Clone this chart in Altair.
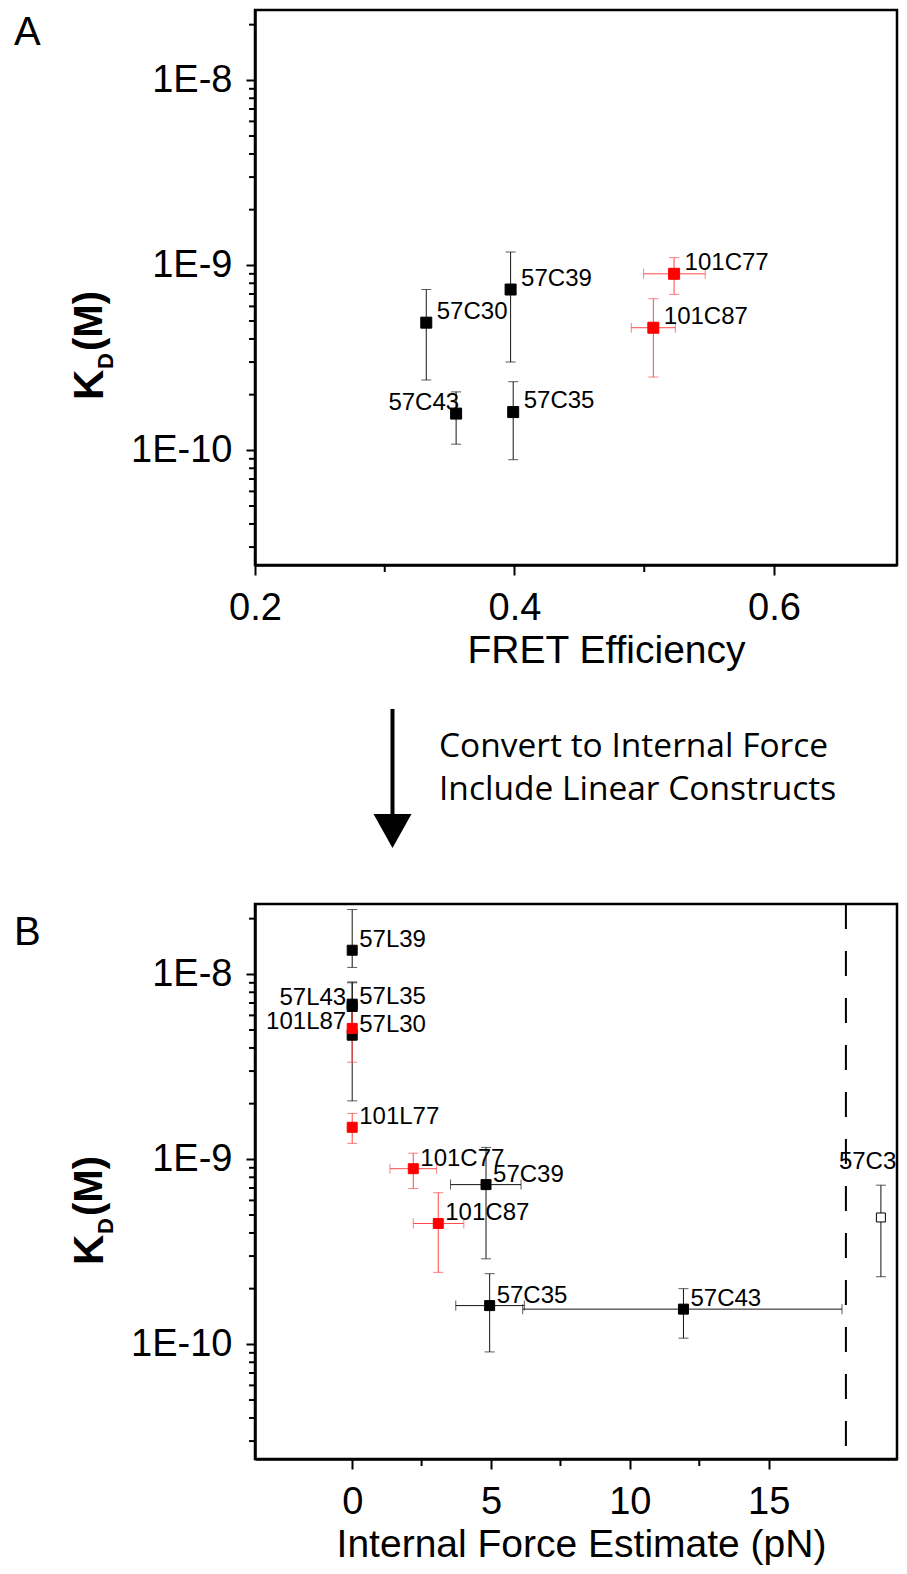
import json
import altair as alt
import pandas as pd

FONT = "Liberation Sans"

# ---------------- Panel A : KD vs FRET efficiency ----------------
a_names = ["57C30", "57C39", "57C43", "57C35", "101C77", "101C87"]
a_group = ["black", "black", "black", "black", "red", "red"]
a_fret = [0.332, 0.397, 0.355, 0.399, 0.523, 0.507]
a_fret_lo = [None, None, None, None, 0.4995, 0.490]
a_fret_hi = [None, None, None, None, 0.547, 0.524]
a_kd = [4.9e-10, 7.4e-10, 1.58e-10, 1.61e-10, 9.0e-10, 4.6e-10]
a_kd_lo = [2.4e-10, 3.0e-10, 1.08e-10, 8.9e-11, 6.97e-10, 2.49e-10]
a_kd_hi = [7.4e-10, 1.18e-9, 2.07e-10, 2.35e-10, 1.1e-9, 6.6e-10]
a_right_labels = ["57C43"]
a_x_domain = [0.2, 0.6948]
a_x_major = [0.2, 0.4, 0.6]
a_x_minor = [0.3, 0.5]

# ---------------- Panel B : KD vs internal force ----------------
b_names = ["57L39", "57L35", "57L43", "57L30", "57C39", "57C35", "57C43", "57C30",
           "101L87", "101L77", "101C77", "101C87"]
b_group = ["black", "black", "black", "black", "black", "black", "black", "open",
           "red", "red", "red", "red"]
b_force = [0, 0, 0, 0, 4.82, 4.95, 11.93, 19.04, 0, 0, 2.2, 3.1]
b_force_lo = [None, None, None, None, 3.54, 3.73, 6.14, None, None, None, 1.36, 2.2]
b_force_hi = [None, None, None, None, 6.08, 6.2, 17.64, None, None, None, 3.04, 4.02]
b_kd = [1.35e-8, 6.7e-9, 6.9e-9, 4.7e-9, 7.3e-10, 1.62e-10, 1.55e-10, 4.85e-10,
        5.1e-9, 1.49e-9, 8.9e-10, 4.5e-10]
b_kd_lo = [1.09e-8, 4.4e-9, 4.6e-9, 2.07e-9, 2.9e-10, 9.1e-11, 1.08e-10, 2.32e-10,
           3.35e-9, 1.22e-9, 6.95e-10, 2.45e-10]
b_kd_hi = [2.24e-8, 9.0e-9, 9.1e-9, 7.3e-9, 1.16e-9, 2.41e-10, 2.0e-10, 7.25e-10,
           6.75e-9, 1.77e-9, 1.08e-9, 6.6e-10]
b_right_labels = ["57L43", "101L87"]
b_above_labels = ["57C30"]
b_threshold = [17.78]
b_x_domain = [-3.5, 19.62]
b_x_major = [0, 5, 10, 15]
b_x_minor = [2.5, 7.5, 12.5]

# ---------------- shared y axis ----------------
kd_domain = [2.4e-11, 2.4e-8]
kd_major = [1e-10, 1e-9, 1e-8]
kd_minor = [m * 10.0 ** e for e in (-11, -10, -9, -8) for m in range(2, 10)
            if kd_domain[0] <= m * 10.0 ** e <= kd_domain[1]]

note_text = "Convert to Internal Force\nInclude Linear Constructs"

W, H = 642, 555


def frame(names, group, x, xlo, xhi, y, ylo, yhi):
    return pd.DataFrame({"name": names, "group": group, "x": x, "xlo": xlo,
                         "xhi": xhi, "y": y, "ylo": ylo, "yhi": yhi})


def kd_title(shift):
    one = pd.DataFrame({"k": ["K"], "d": ["D"], "m": ["(M)"]})
    c = alt.Chart(one)
    k = c.mark_text(angle=270, align="left", baseline="alphabetic", font=FONT,
                    fontSize=42, fontWeight="bold", color="black").encode(
        x=alt.value(-152), y=alt.value(390 + shift), text="k:N")
    d = c.mark_text(angle=270, align="left", baseline="alphabetic", font=FONT,
                    fontSize=22, fontWeight="bold", color="black").encode(
        x=alt.value(-142), y=alt.value(359 + shift), text="d:N")
    m = c.mark_text(angle=270, align="left", baseline="alphabetic", font=FONT,
                    fontSize=40, fontWeight="bold", color="black").encode(
        x=alt.value(-153), y=alt.value(341 + shift), text="m:N")
    return [k, d, m]


def build_panel(df, xdom, xmaj, xmin, xfmt, xtitle, title_x, sq_size, lab_dx, lab_dy,
                right_labels, above_labels, letter, letter_y, kd_shift, before=(), after=()):
    xs = alt.Scale(domain=xdom, nice=False, zero=False)
    ys = alt.Scale(type="log", domain=kd_domain, nice=False)
    err_col = alt.Color("group:N", legend=None,
                        scale=alt.Scale(domain=["black", "open", "red"],
                                        range=["#151515", "#151515", "#ff4848"]))
    fill_s = alt.Fill("group:N", legend=None,
                      scale=alt.Scale(domain=["black", "open", "red"],
                                      range=["#000000", "#ffffff", "#ff0000"]))
    stroke_s = alt.Stroke("group:N", legend=None,
                          scale=alt.Scale(domain=["black", "open", "red"],
                                          range=["#000000", "#000000", "#ff0000"]))

    def X(f):
        return alt.X(f"{f}:Q", scale=xs, axis=None)

    def Y(f):
        return alt.Y(f"{f}:Q", scale=ys, axis=None)

    base = alt.Chart(df)
    axes = base.mark_point(opacity=0).encode(
        x=alt.X("x:Q", scale=xs, axis=alt.Axis(
            orient="bottom", values=xmaj, format=xfmt, tickSize=10,
            labelPadding=14, title=xtitle, titlePadding=4, titleX=title_x)),
        y=alt.Y("y:Q", scale=ys, axis=alt.Axis(
            orient="left", values=kd_major, tickSize=9,
            labelExpr="replace(format(datum.value, '.0e'), 'e', 'E')",
            labelPadding=14, title=None)))

    # minor ticks, placed through the same scales
    ymin_df = pd.DataFrame({"v": kd_minor})
    xmin_df = pd.DataFrame({"v": xmin})
    ytick_minor = alt.Chart(ymin_df).mark_rule(color="black", strokeWidth=2).encode(
        y=Y("v"), x=alt.value(-6), x2=alt.value(0))
    xtick_minor = alt.Chart(xmin_df).mark_rule(color="black", strokeWidth=2).encode(
        x=X("v"), y=alt.value(H), y2=alt.value(H + 7))

    vbar = base.mark_rule(strokeWidth=1).encode(x=X("x"), y=Y("ylo"), y2=alt.Y2("yhi"), color=err_col)
    vcap1 = base.mark_tick(orient="horizontal", size=10, thickness=1).encode(x=X("x"), y=Y("ylo"), color=err_col)
    vcap2 = base.mark_tick(orient="horizontal", size=10, thickness=1).encode(x=X("x"), y=Y("yhi"), color=err_col)
    hb = base.transform_filter("isValid(datum.xlo)")
    hbar = hb.mark_rule(strokeWidth=1).encode(x=X("xlo"), x2=alt.X2("xhi"), y=Y("y"), color=err_col)
    hcap1 = hb.mark_tick(orient="vertical", size=10, thickness=1).encode(x=X("xlo"), y=Y("y"), color=err_col)
    hcap2 = hb.mark_tick(orient="vertical", size=10, thickness=1).encode(x=X("xhi"), y=Y("y"), color=err_col)

    pts = base.mark_square(strokeWidth=1, opacity=1).encode(
        x=X("x"), y=Y("y"), fill=fill_s, stroke=stroke_s,
        size=alt.condition("datum.group == 'open'", alt.value(81), alt.value(sq_size)))

    special = right_labels + above_labels
    lab_main = base.transform_filter(f"indexof({json.dumps(special)}, datum.name) < 0").mark_text(
        align="left", baseline="middle", dx=lab_dx, dy=lab_dy, font=FONT, fontSize=24,
        color="black").encode(x=X("x"), y=Y("y"), text="name:N")
    lab_right = base.transform_filter(f"indexof({json.dumps(right_labels)}, datum.name) >= 0").mark_text(
        align="right", baseline="middle", dx=-6 if lab_dx < 9 else 3, dy=-6 if lab_dx < 9 else lab_dy,
        font=FONT, fontSize=24, color="black").encode(x=X("x"), y=Y("y"), text="name:N")
    layers = [axes, ytick_minor, xtick_minor] + list(before) + [
        vbar, vcap1, vcap2, hbar, hcap1, hcap2, pts, lab_main, lab_right]
    if above_labels:
        lab_above = base.transform_filter(f"indexof({json.dumps(above_labels)}, datum.name) >= 0").mark_text(
            align="left", baseline="middle", dx=-42, dy=-55, font=FONT, fontSize=24,
            color="black", clip=True).encode(x=X("x"), y=Y("y"), text="name:N")
        layers.append(lab_above)

    letter_df = pd.DataFrame({"t": [letter]})
    let = alt.Chart(letter_df).mark_text(align="left", baseline="alphabetic", font=FONT,
                                         fontSize=40, color="black").encode(
        x=alt.value(-241), y=alt.value(letter_y), text="t:N")
    layers += [let] + kd_title(kd_shift) + list(after)
    return alt.layer(*layers).resolve_axis(x="independent", y="independent").properties(
        width=W, height=H)


df_a = frame(a_names, a_group, a_fret, a_fret_lo, a_fret_hi, a_kd, a_kd_lo, a_kd_hi)
df_b = frame(b_names, b_group, b_force, b_force_lo, b_force_hi, b_kd, b_kd_lo, b_kd_hi)

# annotations between the panels (drawn as part of panel A, below its plot)
one = pd.DataFrame({"t": [note_text]})
arrow_line = alt.Chart(one).mark_rule(color="black", strokeWidth=4).encode(
    x=alt.value(137.5), y=alt.value(699), y2=alt.value(810))
arrow_head = alt.Chart(one).mark_point(
    shape="M-1,-0.9L1,-0.9L0,0.9Z", size=1444, filled=True, opacity=1, color="black",
    strokeWidth=0).encode(x=alt.value(137.5), y=alt.value(821))
note = alt.Chart(one).mark_text(align="left", baseline="alphabetic", font="Open Sans",
                                fontSize=33.5, fontWeight=500, lineBreak="\n", lineHeight=43,
                                color="black").encode(
    x=alt.value(184), y=alt.value(747), text="t:N")
spacer = alt.Chart(one).mark_rule(color="white", strokeWidth=0.5).encode(
    x=alt.value(-200), y=alt.value(0), y2=alt.value(888.75))

panel_a = build_panel(df_a, a_x_domain, a_x_major, a_x_minor, ".1f", "FRET Efficiency", 351,
                      121, 10.5, -11, a_right_labels, [], "A", 35, 0,
                      after=[spacer, arrow_line, arrow_head, note])

thr = alt.Chart(pd.DataFrame({"x": b_threshold})).mark_rule(
    color="black", strokeWidth=2, strokeDash=[25, 22]).encode(
    x=alt.X("x:Q", scale=alt.Scale(domain=b_x_domain, nice=False, zero=False), axis=None))

panel_b = build_panel(df_b, b_x_domain, b_x_major, b_x_minor, "d",
                      "Internal Force Estimate (pN)", 326, 100, 7, -10,
                      b_right_labels, b_above_labels, "B", 41, -29, before=[thr])

chart = alt.vconcat(panel_a, panel_b, spacing=0).properties(
    padding={"left": 4, "top": 0, "right": 0, "bottom": 0}
).configure(font=FONT).configure_view(stroke="black", strokeWidth=2.5).configure_axis(
    domainColor="black", domainWidth=2.5, tickColor="black", tickWidth=2,
    labelColor="black", labelFont=FONT, labelFontSize=38, labelFlush=False,
    labelOverlap=False, titleColor="black", titleFont=FONT, titleFontSize=39,
    titleFontWeight="normal", grid=False
)

chart.save("out.html", embed_options={"renderer": "svg", "actions": False})
